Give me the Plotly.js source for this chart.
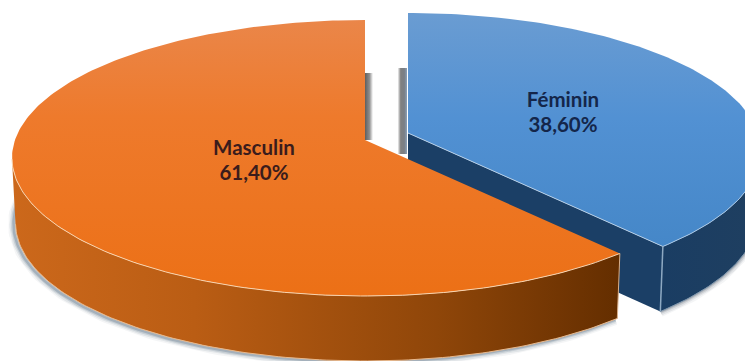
<!DOCTYPE html>
<html>
<head>
<meta charset="utf-8">
<script src="https://cdn.plot.ly/plotly-3.0.1.min.js"></script>
<style>html,body{margin:0;padding:0;background:#fff}#chart{width:745px;height:361px}</style>
</head>
<body>
<div id="chart"></div>
<script>
// Share of respondents by sex
const categories = ['Féminin', 'Masculin'];
const shares = [38.6, 61.4];

// Tilted-disc geometry, in plot units
const femApex = {x: 408, y: 133};
const mascApex = {x: 365, y: 140};
const labelAnchors = [{x: 563, y: 102}, {x: 254, y: 150}];
const labelColors = ['#14264a', '#3a1c1c'];
const radiusX = 350, radiusY = 135.65, tilt = 0.1304;
const thickness = 65, floorScale = 0.99;
const lineGap = 24.5;
const mascWallEnd = 262, femWallStart = 98, shadowEnd = 278;

const total = shares.reduce((a, b) => a + b, 0);
const cutAngle = 360 * shares[0] / total;

// Perspective projection of a rim point; angle runs clockwise from the back of the disc
function rimPoint(apex, deg, drop, scale) {
  const t = deg * Math.PI / 180;
  const u = Math.sin(t), v = -Math.cos(t);
  const w = 1 - tilt * v;
  return {x: apex.x + scale * radiusX * u / w, y: apex.y + drop + radiusY * v / w};
}
function arc(apex, from, to, drop, scale) {
  const pts = [], n = Math.ceil(Math.abs(to - from));
  for (let i = 0; i <= n; i++) pts.push(rimPoint(apex, from + (to - from) * i / n, drop, scale));
  return pts;
}
function closed(pts, color, extra) {
  return Object.assign({
    type: 'scatter', mode: 'lines', x: pts.map(p => p.x).concat(pts[0].x), y: pts.map(p => p.y).concat(pts[0].y),
    fill: 'toself', fillcolor: color, line: {width: 0}, hoverinfo: 'skip'
  }, extra || {});
}
function stroke(pts, color, width) {
  return {type: 'scatter', mode: 'lines', x: pts.map(p => p.x), y: pts.map(p => p.y),
    line: {color: color, width: width}, hoverinfo: 'skip'};
}
function gradient(type, stops) {
  return {fillgradient: {type: type, colorscale: stops}};
}
function percentText(v) { return v.toFixed(2).replace('.', ',') + '%'; }
// Thin shaded sliver of an inner wall seen through the gap between the slices
function sliver(apex, dx0, dx1, top, bottom, stops) {
  return closed([
    {x: apex.x + dx0, y: apex.y - top}, {x: apex.x + dx1, y: apex.y - top},
    {x: apex.x + dx1, y: apex.y + bottom}, {x: apex.x + dx0, y: apex.y + bottom}
  ], '#8a8a8a', gradient('horizontal', stops));
}

const traces = [];

// Soft contact shadow under both slices
const mascFloor = arc(mascApex, cutAngle, mascWallEnd, thickness, floorScale);
const femFloor = arc(femApex, femWallStart, cutAngle, thickness, floorScale);
const mascShadow = arc(mascApex, cutAngle, shadowEnd, thickness, floorScale).map(p => ({x: p.x - 2, y: p.y + 1}));
[[11, 0.06], [8, 0.10], [5, 0.16], [2.5, 0.24]].forEach(([w, a]) => {
  traces.push(stroke(mascShadow, `rgba(60,85,110,${a})`, w));
  traces.push(stroke(femFloor, `rgba(70,80,95,${a})`, w));
});

traces.push(sliver(mascApex, 0, 8, 67, 0, [[0, '#5f5f5f'], [0.55, '#8c8c8c'], [1, '#ffffff']]));
traces.push(sliver(femApex, -10, -1, 65, 21, [[0, '#f0f0f0'], [0.3, '#808080'], [0.7, '#7a7f86'], [1, '#8aa0b8']]));

// Féminin slice: cut face, outer wall, top
const femTip = rimPoint(femApex, cutAngle, 0, 1);
const femTipLow = rimPoint(femApex, cutAngle, thickness, floorScale);
traces.push(closed([femApex, femTip, femTipLow, {x: femApex.x, y: femApex.y + thickness}], '#1b3f66'));
traces.push(closed(arc(femApex, femWallStart, cutAngle, 0, 1).concat(arc(femApex, cutAngle, femWallStart, thickness, floorScale)),
  '#1c3d60', gradient('horizontal', [[0, '#1a3d63'], [1, '#1f3f60']])));
traces.push(closed([femApex].concat(arc(femApex, 0, cutAngle, 0, 1)), '#5a94d2',
  gradient('vertical', [[0, '#4587c8'], [0.55, '#5291d3'], [1, '#6a9cd2']])));
traces.push(stroke([femApex, femTip], '#b4cde6', 1));
traces.push(stroke(arc(femApex, femWallStart, cutAngle, 0, 1), '#a9c8e6', 1));
traces.push(stroke([femTip, femTipLow], '#8ea9c2', 1.5));
traces.push(stroke(femFloor, '#7f97ad', 1));

// Masculin slice: outer wall, top
const mascTip = rimPoint(mascApex, cutAngle, 0, 1);
const mascTipLow = rimPoint(mascApex, cutAngle, thickness, floorScale);
traces.push(closed(arc(mascApex, cutAngle, mascWallEnd, 0, 1).concat(arc(mascApex, mascWallEnd, cutAngle, thickness, floorScale)),
  '#a5530f', gradient('horizontal', [[0, '#cc681b'], [0.3, '#ba5d14'], [0.7, '#8f4609'], [1, '#642e00']])));
traces.push(closed([mascApex].concat(arc(mascApex, cutAngle, 360, 0, 1)), '#ee7521',
  gradient('vertical', [[0, '#ec7016'], [0.65, '#ee7a2c'], [1, '#ea8649']])));
traces.push(stroke(arc(mascApex, cutAngle, mascWallEnd, 0, 1), '#f8d3ae', 1));
traces.push(stroke(mascFloor, '#e8b88c', 1));
traces.push(stroke([mascTip, mascTipLow], '#d9b08c', 1));

// Slice labels
traces.push({
  type: 'scatter', mode: 'text', hoverinfo: 'skip',
  x: labelAnchors.flatMap(a => [a.x, a.x]),
  y: labelAnchors.flatMap(a => [a.y, a.y + lineGap]),
  text: categories.flatMap((c, i) => [c, percentText(shares[i])]),
  textposition: 'middle center',
  textfont: {family: 'Lato, "Open Sans", sans-serif', size: 20.5, weight: 700,
    color: labelColors.flatMap(c => [c, c])}
});

Plotly.newPlot('chart', traces, {
  width: 745, height: 361,
  margin: {l: 0, r: 0, t: 0, b: 0},
  paper_bgcolor: '#fff', plot_bgcolor: '#fff', showlegend: false,
  xaxis: {range: [0, 745], visible: false, fixedrange: true},
  yaxis: {range: [361, 0], visible: false, fixedrange: true}
}, {displayModeBar: false, staticPlot: true});
</script>
</body>
</html>
